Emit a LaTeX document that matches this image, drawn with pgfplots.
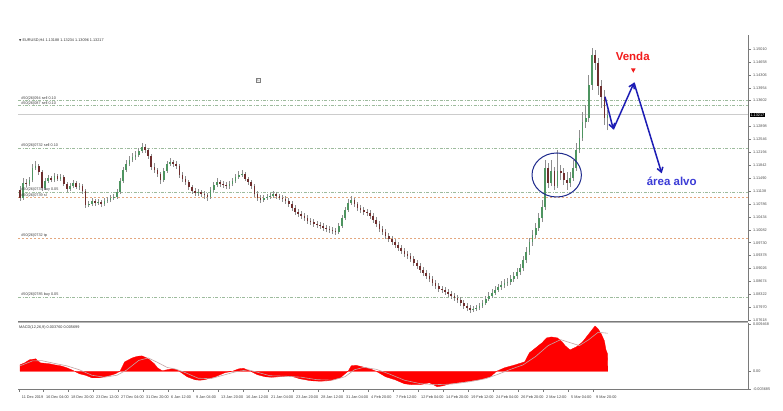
\documentclass[border=0pt]{standalone}
\usepackage{fontspec}
\setmainfont{Liberation Sans}
\newfontfamily\symfont{DejaVu Sans}
\usepackage{pgfplots}
\usepackage{pgfplotstable}
\pgfplotsset{compat=1.18}
\usetikzlibrary{arrows.meta}

\definecolor{upC}{HTML}{4E9460}
\definecolor{dnC}{HTML}{6E2E2E}
\definecolor{wickC}{HTML}{8E8E8E}
\definecolor{ordG}{HTML}{9DBB9D}
\definecolor{ordO}{HTML}{E3A77E}
\definecolor{arrB}{HTML}{1C1CB4}
\definecolor{txtB}{HTML}{3B3BD6}
\definecolor{circB}{HTML}{1E2A8C}
\definecolor{vendaR}{HTML}{F21C1C}
\definecolor{macdR}{HTML}{FF0000}
\definecolor{sigC}{HTML}{C4A4A4}
\definecolor{axisC}{HTML}{7A7A7A}

\newcommand\mt{\fontsize{3.8}{4.4}\selectfont}

% H4 candles, every second bar: index, open, close, high, low
\pgfplotstableread{
k o c h l
0 1.11167 1.10949 1.11275 1.10867
2 1.10949 1.11357 1.11494 1.10894
4 1.11357 1.11330 1.11467 1.11248
6 1.11330 1.11439 1.11521 1.11275
8 1.11439 1.11766 1.11875 1.11384
10 1.11766 1.11820 1.11957 1.11712
12 1.11820 1.11657 1.11875 1.11576
14 1.11657 1.11221 1.11712 1.11140
16 1.11221 1.11412 1.11494 1.11167
18 1.11412 1.11494 1.11576 1.11357
20 1.11494 1.11439 1.11548 1.11384
22 1.11439 1.11548 1.11630 1.11384
24 1.11548 1.11467 1.11603 1.11412
26 1.11467 1.11521 1.11603 1.11412
28 1.11521 1.11330 1.11576 1.11275
30 1.11330 1.11194 1.11384 1.11112
32 1.11194 1.11275 1.11357 1.11140
34 1.11275 1.11357 1.11439 1.11221
36 1.11357 1.11248 1.11412 1.11194
38 1.11248 1.11275 1.11357 1.11167
40 1.11275 1.11140 1.11330 1.11058
42 1.11140 1.10758 1.11194 1.10676
44 1.10758 1.10785 1.10867 1.10703
46 1.10785 1.10867 1.10949 1.10730
48 1.10867 1.10812 1.10922 1.10730
50 1.10812 1.10839 1.10922 1.10758
52 1.10839 1.10785 1.10894 1.10703
54 1.10785 1.10867 1.10949 1.10730
56 1.10867 1.10894 1.10976 1.10812
58 1.10894 1.10949 1.11031 1.10839
60 1.10949 1.10976 1.11058 1.10894
62 1.10976 1.11112 1.11194 1.10922
64 1.11112 1.11412 1.11494 1.11058
66 1.11412 1.11712 1.11793 1.11357
68 1.11712 1.11875 1.11984 1.11657
70 1.11875 1.11984 1.12093 1.11820
72 1.11984 1.12066 1.12175 1.11929
74 1.12066 1.12121 1.12230 1.11984
76 1.12121 1.12230 1.12312 1.12066
78 1.12230 1.12339 1.12448 1.12175
80 1.12339 1.12257 1.12421 1.12175
82 1.12257 1.12093 1.12312 1.12012
84 1.12093 1.11793 1.12148 1.11712
86 1.11793 1.11712 1.11902 1.11630
88 1.11712 1.11603 1.11766 1.11521
90 1.11603 1.11439 1.11657 1.11330
92 1.11439 1.11685 1.11766 1.11384
94 1.11685 1.11875 1.11957 1.11630
96 1.11875 1.11929 1.12039 1.11820
98 1.11929 1.11875 1.11984 1.11793
100 1.11875 1.11820 1.11957 1.11739
102 1.11820 1.11576 1.11875 1.11494
104 1.11576 1.11467 1.11657 1.11384
106 1.11467 1.11384 1.11548 1.11303
108 1.11384 1.11248 1.11439 1.11167
110 1.11248 1.11140 1.11303 1.11058
112 1.11140 1.11085 1.11221 1.11003
114 1.11085 1.11112 1.11194 1.11003
116 1.11112 1.11058 1.11167 1.10976
118 1.11058 1.11031 1.11140 1.10922
120 1.11031 1.10976 1.11085 1.10867
122 1.10976 1.11167 1.11248 1.10922
124 1.11167 1.11303 1.11384 1.11112
126 1.11303 1.11384 1.11494 1.11248
128 1.11384 1.11330 1.11439 1.11248
130 1.11330 1.11303 1.11412 1.11221
132 1.11303 1.11275 1.11384 1.11194
134 1.11275 1.11330 1.11412 1.11194
136 1.11330 1.11412 1.11494 1.11275
138 1.11412 1.11521 1.11603 1.11357
140 1.11521 1.11576 1.11685 1.11467
142 1.11576 1.11603 1.11712 1.11521
144 1.11603 1.11467 1.11657 1.11412
146 1.11467 1.11384 1.11521 1.11303
148 1.11384 1.11275 1.11439 1.11194
150 1.11275 1.11058 1.11330 1.10976
152 1.11058 1.10949 1.11140 1.10867
154 1.10949 1.10894 1.11031 1.10812
156 1.10894 1.10949 1.11031 1.10839
158 1.10949 1.10976 1.11058 1.10894
160 1.10976 1.11003 1.11085 1.10922
162 1.11003 1.11058 1.11140 1.10949
164 1.11058 1.11003 1.11112 1.10922
166 1.11003 1.10949 1.11058 1.10894
168 1.10949 1.10922 1.11031 1.10839
170 1.10922 1.10867 1.11003 1.10785
172 1.10867 1.10785 1.10949 1.10703
174 1.10785 1.10676 1.10867 1.10594
176 1.10676 1.10566 1.10758 1.10485
178 1.10566 1.10512 1.10648 1.10430
180 1.10512 1.10457 1.10594 1.10376
182 1.10457 1.10403 1.10539 1.10322
184 1.10403 1.10322 1.10485 1.10240
186 1.10322 1.10294 1.10403 1.10213
188 1.10294 1.10240 1.10376 1.10158
190 1.10240 1.10213 1.10322 1.10131
192 1.10213 1.10185 1.10294 1.10104
194 1.10185 1.10131 1.10267 1.10049
196 1.10131 1.10104 1.10213 1.10021
198 1.10104 1.10076 1.10185 1.09994
200 1.10076 1.10049 1.10158 1.09967
202 1.10049 1.10021 1.10131 1.09940
204 1.10021 1.10185 1.10267 1.09967
206 1.10185 1.10403 1.10485 1.10131
208 1.10403 1.10621 1.10703 1.10349
210 1.10621 1.10812 1.10922 1.10566
212 1.10812 1.10894 1.11003 1.10758
214 1.10894 1.10785 1.10949 1.10703
216 1.10785 1.10676 1.10839 1.10594
218 1.10676 1.10621 1.10758 1.10539
220 1.10621 1.10566 1.10703 1.10485
222 1.10566 1.10539 1.10648 1.10457
224 1.10539 1.10457 1.10621 1.10376
226 1.10457 1.10349 1.10539 1.10267
228 1.10349 1.10240 1.10430 1.10158
230 1.10240 1.10104 1.10322 1.10021
232 1.10104 1.10021 1.10185 1.09940
234 1.10021 1.09912 1.10104 1.09831
236 1.09912 1.09831 1.09994 1.09749
238 1.09831 1.09749 1.09912 1.09668
240 1.09749 1.09668 1.09831 1.09586
242 1.09668 1.09586 1.09749 1.09504
244 1.09586 1.09504 1.09668 1.09422
246 1.09504 1.09422 1.09586 1.09340
248 1.09422 1.09367 1.09504 1.09286
250 1.09367 1.09286 1.09449 1.09203
252 1.09286 1.09176 1.09367 1.09094
254 1.09176 1.09094 1.09258 1.09013
256 1.09094 1.08986 1.09176 1.08904
258 1.08986 1.08904 1.09067 1.08822
260 1.08904 1.08822 1.08986 1.08741
262 1.08822 1.08741 1.08904 1.08658
264 1.08741 1.08631 1.08822 1.08549
266 1.08631 1.08549 1.08713 1.08468
268 1.08549 1.08468 1.08631 1.08386
270 1.08468 1.08441 1.08549 1.08359
272 1.08441 1.08386 1.08522 1.08305
274 1.08386 1.08332 1.08468 1.08250
276 1.08332 1.08277 1.08414 1.08196
278 1.08277 1.08223 1.08359 1.08141
280 1.08223 1.08168 1.08305 1.08086
282 1.08168 1.08086 1.08250 1.08004
284 1.08086 1.08004 1.08168 1.07923
286 1.08004 1.07950 1.08086 1.07868
288 1.07950 1.07895 1.08032 1.07813
290 1.07895 1.07923 1.08004 1.07840
292 1.07923 1.07950 1.08032 1.07868
294 1.07950 1.08004 1.08086 1.07895
296 1.08004 1.08086 1.08168 1.07950
298 1.08086 1.08196 1.08277 1.08032
300 1.08196 1.08277 1.08386 1.08141
302 1.08277 1.08359 1.08468 1.08223
304 1.08359 1.08441 1.08549 1.08305
306 1.08441 1.08522 1.08604 1.08386
308 1.08522 1.08577 1.08686 1.08441
310 1.08577 1.08631 1.08741 1.08495
312 1.08631 1.08658 1.08768 1.08549
314 1.08658 1.08741 1.08849 1.08577
316 1.08741 1.08822 1.08931 1.08658
318 1.08822 1.08931 1.09040 1.08741
320 1.08931 1.09040 1.09149 1.08849
322 1.09040 1.09258 1.09367 1.08958
324 1.09258 1.09476 1.09613 1.09176
326 1.09476 1.09749 1.09858 1.09395
328 1.09749 1.09940 1.10076 1.09640
330 1.09940 1.10131 1.10267 1.09858
332 1.10131 1.10403 1.10539 1.10049
334 1.10403 1.10703 1.10894 1.10294
336 1.10703 1.11766 1.11984 1.10621
338 1.11766 1.11357 1.11902 1.11221
340 1.11357 1.11685 1.11984 1.11275
342 1.11685 1.11275 1.11793 1.11167
344 1.11275 1.11685 1.12257 1.11221
346 1.11685 1.11630 1.11848 1.11439
348 1.11630 1.11439 1.11766 1.11303
350 1.11439 1.11357 1.11657 1.11167
352 1.11357 1.11494 1.11657 1.11248
354 1.11494 1.11766 1.11984 1.11412
356 1.11766 1.12257 1.12448 1.11685
358 1.12257 1.12584 1.12802 1.12175
360 1.12584 1.13020 1.13292 1.12503
362 1.13020 1.13129 1.13484 1.12857
364 1.13129 1.14029 1.14302 1.13020
366 1.14029 1.14847 1.15032 1.13893
368 1.14847 1.14628 1.14983 1.14438
370 1.14628 1.14002 1.14765 1.13757
372 1.14002 1.13702 1.14165 1.13402
374 1.13702 1.13129 1.13893 1.12939
376 1.13129 1.13217 1.13347 1.12802
}\candles

% MACD main (histogram)
\pgfplotstableread{
k v
0 0.00131
3 0.00171
6 0.00232
10 0.00252
13 0.00171
16 0.00161
19 0.00151
22 0.00131
26 0.00111
30 0.00070
33 0.00030
35 0.00000
38 -0.00050
42 -0.00081
46 -0.00131
51 -0.00131
54 -0.00111
58 -0.00081
61 -0.00050
64 0.00000
67 0.00191
72 0.00272
75 0.00302
78 0.00312
81 0.00272
83 0.00232
86 0.00151
88 0.00070
91 0.00010
94 0.00030
97 0.00050
100 0.00040
102 0.00000
107 -0.00111
112 -0.00171
115 -0.00181
118 -0.00171
125 -0.00111
131 -0.00030
136 0.00000
140 0.00050
143 0.00060
147 0.00010
152 -0.00070
157 -0.00111
161 -0.00121
166 -0.00111
173 -0.00091
179 -0.00151
186 -0.00191
192 -0.00201
198 -0.00191
205 -0.00131
208 -0.00050
210 0.00000
212 0.00111
215 0.00121
219 0.00091
224 0.00050
228 0.00000
234 -0.00111
240 -0.00171
246 -0.00252
251 -0.00272
256 -0.00272
262 -0.00232
267 -0.00312
271 -0.00292
275 -0.00252
285 -0.00211
294 -0.00171
301 -0.00111
305 0.00000
310 0.00070
317 0.00131
323 0.00191
326 0.00373
330 0.00473
334 0.00574
337 0.00675
340 0.00695
344 0.00675
347 0.00594
349 0.00514
352 0.00433
356 0.00493
360 0.00594
363 0.00715
366 0.00836
368 0.00916
370 0.00856
372 0.00755
374 0.00614
375 0.00433
376 0.00352
376.2 0.00000
}\macd

% MACD signal line
\pgfplotstableread{
k v
0 0.00110
8 0.00210
14 0.00215
22 0.00160
30 0.00110
38 0.00030
46 -0.00080
54 -0.00120
62 -0.00080
68 0.00020
76 0.00220
82 0.00270
88 0.00180
94 0.00080
100 0.00040
106 -0.00030
114 -0.00140
122 -0.00150
130 -0.00080
138 -0.00010
146 0.00030
152 -0.00020
160 -0.00090
170 -0.00100
180 -0.00120
190 -0.00170
200 -0.00180
208 -0.00110
214 0.00030
220 0.00080
228 0.00040
236 -0.00050
246 -0.00180
256 -0.00250
266 -0.00270
276 -0.00260
288 -0.00210
298 -0.00150
306 -0.00060
314 0.00040
322 0.00130
330 0.00300
338 0.00520
346 0.00640
352 0.00580
358 0.00520
364 0.00640
370 0.00790
376 0.00770
}\signal

\begin{document}
\begin{tikzpicture}[x=1pt,y=1pt]
\path[use as bounding box, fill=white] (0pt,0pt) rectangle (783pt,411pt);

% ---------------- price pane ----------------
\begin{axis}[
  at={(18pt,89.5pt)}, anchor=south west, scale only axis,
  width=730pt, height=286.5pt,
  xmin=-1.28, xmax=465.9, ymin=1.07582, ymax=1.15392,
  axis x line=none, axis y line*=right,
  axis line style={axisC, line width=0.6pt},
  tick style={axisC, line width=0.4pt}, major tick length=2.5pt, tick align=outside,
  ytick={1.15010,1.14658,1.14306,1.13954,1.13602,1.12898,1.12546,1.12194,1.11842,1.11490,1.11138,1.10786,1.10434,1.10082,1.09730,1.09378,1.09026,1.08674,1.08322,1.07970,1.07618},
  yticklabels={1.15010,1.14658,1.14306,1.13954,1.13602,1.12898,1.12546,1.12194,1.11842,1.11490,1.11138,1.10786,1.10434,1.10082,1.09730,1.09378,1.09026,1.08674,1.08322,1.07970,1.07618},
  yticklabel style={font=\mt, text=black!70, anchor=west, xshift=-1pt},
]
% order levels
\addplot[ordG, line width=0.5pt, dash pattern=on 3pt off 1.5pt on 0.8pt off 1.5pt] coordinates {(-1.28,1.13606) (465.9,1.13606)};
\addplot[ordG, line width=0.5pt, dash pattern=on 3pt off 1.5pt on 0.8pt off 1.5pt] coordinates {(-1.28,1.13470) (465.9,1.13470)};
\addplot[ordG, line width=0.5pt, dash pattern=on 3pt off 1.5pt on 0.8pt off 1.5pt] coordinates {(-1.28,1.12312) (465.9,1.12312)};
\addplot[ordG, line width=0.5pt, dash pattern=on 3pt off 1.5pt on 0.8pt off 1.5pt] coordinates {(-1.28,1.11112) (465.9,1.11112)};
\addplot[ordO, line width=0.5pt, dash pattern=on 2pt off 2pt] coordinates {(-1.28,1.10962) (465.9,1.10962)};
\addplot[ordO, line width=0.5pt, dash pattern=on 2pt off 2pt] coordinates {(-1.28,1.09858) (465.9,1.09858)};
\addplot[ordG, line width=0.5pt, dash pattern=on 3pt off 1.5pt on 0.8pt off 1.5pt] coordinates {(-1.28,1.08250) (465.9,1.08250)};
% bid line
\addplot[gray!40, line width=0.7pt] coordinates {(-1.28,1.13217) (465.9,1.13217)};

% wicks: segment from low to high
\addplot[wickC, line width=0.6pt, mark=none, line cap=butt,
  quiver={u=0, v=\thisrow{h}-\thisrow{l}}]
  table[x=k, y=l] {\candles};
% bodies: segment from open to close, split by direction
\addplot[upC, line width=1.7pt, mark=none, line cap=butt,
  restrict expr to domain={\thisrow{c}-\thisrow{o}}{0:1},
  quiver={u=0, v=\thisrow{c}-\thisrow{o}}]
  table[x=k, y=o] {\candles};
\addplot[dnC, line width=1.7pt, mark=none, line cap=butt,
  restrict expr to domain={\thisrow{c}-\thisrow{o}}{-1:0},
  quiver={u=0, v=\thisrow{c}-\thisrow{o}}]
  table[x=k, y=o] {\candles};

\node[anchor=south west, font=\mt, text=black!75, inner sep=0.3pt] at (axis cs:0.5,1.13606) {\#50(26)094 sell 0.10};
\node[anchor=south west, font=\mt, text=black!75, inner sep=0.3pt] at (axis cs:0.5,1.13470) {\#50(26)087 sell 0.10};
\node[anchor=south west, font=\mt, text=black!75, inner sep=0.3pt] at (axis cs:0.5,1.12312) {\#50(26)0732 sell 0.10};
\node[anchor=south west, font=\mt, text=black!75, inner sep=0.3pt] at (axis cs:0.5,1.11112) {\#50(26)0737 buy 0.05};
\node[anchor=south west, font=\mt, text=black!75, inner sep=0.3pt] at (axis cs:0.5,1.10962) {\#50(26)0739 sl};
\node[anchor=south west, font=\mt, text=black!75, inner sep=0.3pt] at (axis cs:0.5,1.09858) {\#50(26)0732 tp};
\node[anchor=south west, font=\mt, text=black!75, inner sep=0.3pt] at (axis cs:0.5,1.08250) {\#50(26)0785 buy 0.05};
\end{axis}

% ---------------- MACD pane ----------------
\begin{axis}[
  at={(18pt,21.5pt)}, anchor=south west, scale only axis,
  width=730pt, height=66pt,
  xmin=-1.28, xmax=465.9, ymin=-0.003685, ymax=0.00967,
  axis x line*=bottom, axis y line*=right,
  axis line style={axisC, line width=0.6pt},
  tick style={axisC, line width=0.4pt}, major tick length=2.5pt, tick align=outside,
  xtick={-0.5,15,31,47,63,79,95,111,127,143,159,175,191,207,223,239,255,271,287,303,319,335,351,367},
  xticklabels={11 Dec 2019,16 Dec 04:00,18 Dec 20:00,23 Dec 12:00,27 Dec 04:00,31 Dec 20:00,6 Jan 12:00,9 Jan 04:00,13 Jan 20:00,16 Jan 12:00,21 Jan 04:00,23 Jan 20:00,28 Jan 12:00,31 Jan 04:00,4 Feb 20:00,7 Feb 12:00,12 Feb 04:00,14 Feb 20:00,19 Feb 12:00,24 Feb 04:00,26 Feb 20:00,2 Mar 12:00,5 Mar 04:00,9 Mar 20:00},
  xticklabel style={font=\mt, text=black!75, anchor=north west, xshift=-0.8pt, yshift=-0.5pt},
  ytick={-0.003685,0,0.009468},
  yticklabels={-0.003685,0.00,0.009468},
  yticklabel style={font=\mt, text=black!70, anchor=west, xshift=-1pt},
  scaled y ticks=false,
]
\addplot[macdR, fill=macdR, line width=0.3pt] table[x=k, y=v] {\macd} \closedcycle;
\addplot[sigC, line width=0.6pt] table[x=k, y=v] {\signal};
\end{axis}

% pane separator
\draw[axisC, line width=0.8pt] (18pt,89.6pt) -- (748pt,89.6pt);
\draw[axisC!55, line width=0.6pt] (18pt,88.3pt) -- (748pt,88.3pt);

% header texts
\node[anchor=west, font=\mt, text=black!80, inner sep=0] at (19pt,370.5pt)
  {{\symfont\fontsize{3}{3}\selectfont ▼} EURUSD,H4 1.13188 1.13234 1.13096 1.13217};
\node[anchor=west, font=\mt, text=black!80, inner sep=0] at (19pt,83pt)
  {MACD(12,26,9) 0.003760 0.005699};
\node[draw=gray, fill=gray!12, inner sep=0.7pt, font=\fontsize{4}{4}\selectfont, text=gray] at (258.5pt,331pt) {L};

% current price tag
\node[anchor=west, fill=black, text=white, font=\mt, inner sep=0.8pt] at (749.5pt,296.2pt) {1.13217};

% annotations
\draw[circB, line width=1pt] (556.7pt,236pt) ellipse [x radius=24.7pt, y radius=22pt];
\draw[arrB, line width=1.5pt, -{Straight Barb[length=4.5pt, width=6pt]}] (605pt,314.3pt) -- (613.3pt,281.7pt);
\draw[arrB, line width=1.5pt, -{Straight Barb[length=4.5pt, width=6pt]}] (613.3pt,281.7pt) -- (634pt,328.3pt);
\draw[arrB, line width=1.5pt, -{Straight Barb[length=4.5pt, width=6pt]}] (634pt,328.3pt) -- (661.7pt,237.7pt);
\fill[vendaR] (631pt,342.6pt) -- (635.6pt,342.6pt) -- (633.3pt,338.2pt) -- cycle;
\node[font=\fontsize{11.5}{12}\selectfont\bfseries, text=vendaR] at (632.7pt,354.3pt) {Venda};
\node[font=\fontsize{11.5}{12}\selectfont\bfseries, text=txtB] at (671.7pt,229.3pt) {área alvo};
\end{tikzpicture}
\end{document}
